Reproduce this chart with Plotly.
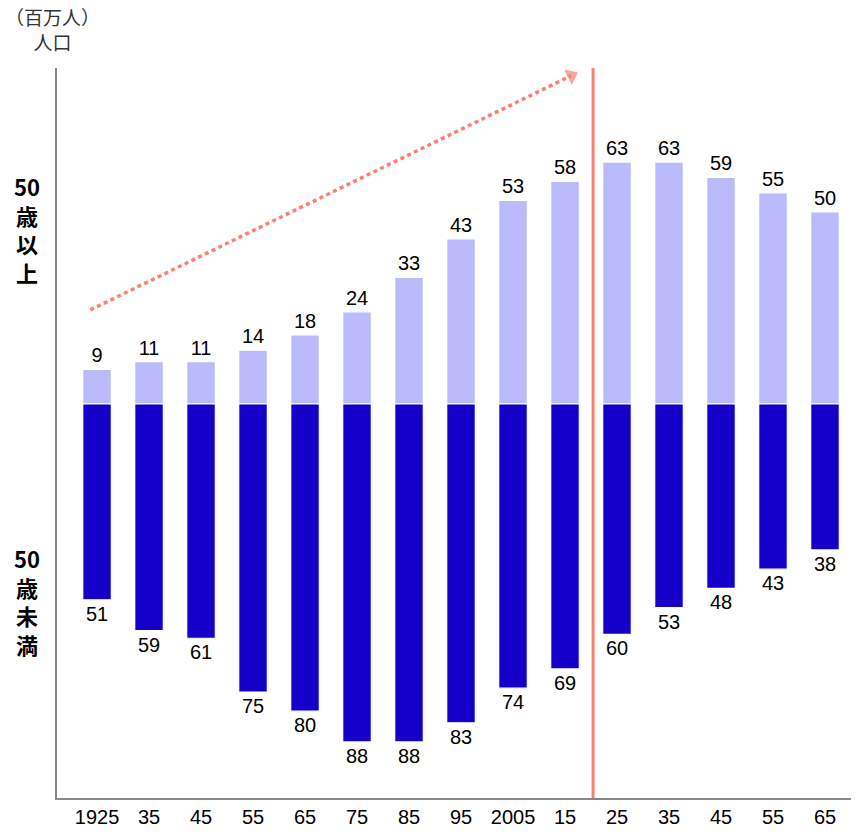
import plotly.graph_objects as go

year_labels = ["1925", "35", "45", "55", "65", "75", "85", "95", "2005", "15",
               "25", "35", "45", "55", "65"]
over50 = [9, 11, 11, 14, 18, 24, 33, 43, 53, 58, 63, 63, 59, 55, 50]
under50 = [51, 59, 61, 75, 80, 88, 88, 83, 74, 69, 60, 53, 48, 43, 38]

light = "#BBBBFC"
dark = "#1400C8"
salmon = "#FA8072"

xs = list(range(len(year_labels)))
font_family = "Liberation Sans, Arial, sans-serif"
cjk = "Noto Sans CJK JP, sans-serif"

fig = go.Figure()
fig.add_trace(go.Bar(
    x=xs, y=over50, width=0.55,
    marker=dict(color=light, line=dict(color="white", width=1.2)),
    text=[str(v) for v in over50], textposition="outside",
    textfont=dict(size=20, color="black", family=font_family),
    cliponaxis=False, showlegend=False,
))
fig.add_trace(go.Bar(
    x=xs, y=[-v for v in under50], width=0.55,
    marker=dict(color=dark, line=dict(color="white", width=1.2)),
    text=[str(v) for v in under50], textposition="outside",
    textfont=dict(size=20, color="black", family=font_family),
    cliponaxis=False, showlegend=False,
))

# dotted trend arrow
arrow_x = [-0.13, 9.12]
arrow_y = [24.5, 85.5]
fig.add_trace(go.Scatter(
    x=arrow_x, y=arrow_y, mode="lines+markers",
    line=dict(color=salmon, width=3.5, dash="4px,3.5px"),
    marker=dict(symbol=["circle", "triangle-up"], size=[0, 15], color=salmon,
                angleref="previous", line=dict(width=0)),
    showlegend=False, hoverinfo="skip", cliponaxis=False,
))

# forecast divider
divider_x = 9.54
fig.add_shape(type="line", xref="x", yref="paper", x0=divider_x, x1=divider_x,
              y0=0, y1=1, line=dict(color=salmon, width=3))

fig.add_annotation(xref="paper", yref="paper", x=-0.006, y=1.053,
                   text="（百万人）<br>人口", showarrow=False,
                   xanchor="center", yanchor="middle",
                   font=dict(size=19, color="#333", family=cjk), align="center")
fig.add_annotation(x=-0.038, y=0.78, xref="paper", yref="paper",
                   text="<b>50<br>歳<br>以<br>上</b>", showarrow=False,
                   xanchor="center", yanchor="middle",
                   font=dict(size=22, color="black", family=cjk), align="center")
fig.add_annotation(x=-0.038, y=0.27, xref="paper", yref="paper",
                   text="<b>50<br>歳<br>未<br>満</b>", showarrow=False,
                   xanchor="center", yanchor="middle",
                   font=dict(size=22, color="black", family=cjk), align="center")

fig.update_layout(
    width=859, height=836,
    margin=dict(l=57, r=8, t=68, b=36),
    barmode="relative", bargap=0.45,
    plot_bgcolor="white", paper_bgcolor="white",
    xaxis=dict(range=[-0.77, 14.5], tickvals=xs, ticktext=year_labels,
               showline=True, linecolor="#888", linewidth=1.5, showgrid=False,
               zeroline=False, ticks="", tickfont=dict(size=20, color="black", family=font_family)),
    yaxis=dict(range=[-102.6, 87.5], showline=True, linecolor="#888", linewidth=1.5,
               showgrid=False, zeroline=False, showticklabels=False, ticks=""),
)

fig.write_html("out.html")
